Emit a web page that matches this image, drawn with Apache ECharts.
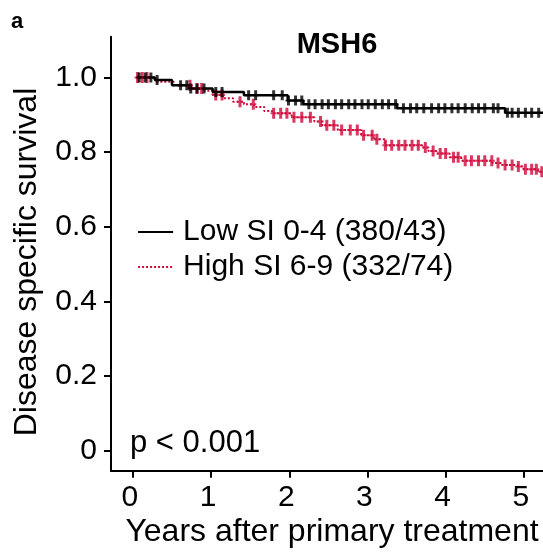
<!DOCTYPE html>
<html>
<head>
<meta charset="utf-8">
<script src="https://cdn.jsdelivr.net/npm/echarts@6/dist/echarts.min.js"></script>
<style>html,body{margin:0;padding:0;background:#fff}#c{width:543px;height:554px}</style>
</head>
<body>
<div id="c"></div>
<script>
// ---- data ----
const lowName = 'Low SI 0-4 (380/43)';
const highName = 'High SI 6-9 (332/74)';
const lowTimes = [0.05, 0.28, 0.50, 0.72, 1.02, 1.42, 1.98, 2.18, 3.38, 4.76, 5.245];
const lowSurv  = [1.000, 0.993, 0.979, 0.970, 0.961, 0.952, 0.938, 0.928, 0.917, 0.905, 0.905];
const highTimes = [0.05, 0.30, 0.52, 0.75, 0.92, 1.02, 1.15, 1.28, 1.42, 1.55, 1.68, 1.78, 2.03, 2.32, 2.42, 2.62, 2.92, 3.08, 3.22, 3.70, 3.78, 3.88, 4.05, 4.20, 4.60, 4.72, 4.88, 5.00, 5.18, 5.245];
const highSurv  = [1.000, 0.988, 0.979, 0.970, 0.964, 0.953, 0.944, 0.935, 0.928, 0.921, 0.910, 0.904, 0.893, 0.882, 0.872, 0.859, 0.845, 0.834, 0.818, 0.812, 0.803, 0.796, 0.786, 0.777, 0.771, 0.765, 0.761, 0.754, 0.747, 0.747];
const lowCensor = [0.08,0.16,0.23,0.31,0.61,0.69,0.74,0.82,0.91,1.06,1.14,1.48,1.57,1.80,1.91,1.99,2.08,2.16,2.25,2.33,2.42,2.50,2.59,2.67,2.76,2.84,2.93,3.01,3.10,3.19,3.27,3.36,3.46,3.55,3.63,3.72,3.82,3.91,3.99,4.08,4.16,4.25,4.34,4.42,4.50,4.61,4.67,4.79,4.85,4.93,5.02,5.10,5.19];
const highCensor = [0.06,0.12,0.18,0.73,0.82,0.88,1.06,1.14,1.37,1.54,1.80,1.89,1.97,2.06,2.16,2.27,2.40,2.48,2.57,2.67,2.78,2.87,2.95,3.06,3.12,3.23,3.31,3.40,3.48,3.57,3.65,3.74,3.84,3.93,4.00,4.10,4.16,4.25,4.33,4.42,4.50,4.59,4.67,4.76,4.85,4.93,5.02,5.10,5.16,5.23];
const xTicks = [0, 1, 2, 3, 4, 5];
const yTicks = [0, 0.2, 0.4, 0.6, 0.8, 1.0];
const titleText = 'MSH6';
const panelLetter = 'a';
const pText = 'p < 0.001';
const xTitle = 'Years after primary treatment';
const yTitle = 'Disease specific survival';

// ---- helpers ----
function pairs(ts, ss) { return ts.map((t, i) => [t, ss[i]]); }
function stepAt(ts, ss, t) {
  let v = ss[0];
  for (let i = 0; i < ts.length; i++) { if (ts[i] <= t) v = ss[i]; }
  return v;
}
function censorPts(c, ts, ss) { return c.map(t => [t, stepAt(ts, ss, t)]); }

const FONT = '"Liberation Sans", Arial, Helvetica, sans-serif';
const RED = '#d0083a';
const plusBlack = 'path://M1.5,0H4.5V4.5H6V6.5H4.5V11H1.5V6.5H0V4.5H1.5Z';
const plusRed = 'path://M1.5,0H4.5V4.5H6V6.5H4.5V11H1.5V6.5H0V4.5H1.5Z';

const chart = echarts.init(document.getElementById('c'), null, {renderer: 'canvas'});
chart.setOption({
  animation: false,
  backgroundColor: '#fff',
  grid: {left: 111, right: 0, top: 36.7, bottom: 83.3, containLabel: false},
  xAxis: {
    type: 'value', min: -0.28, max: 5.245,
    axisLine: {show: true, onZero: false, lineStyle: {color: '#000', width: 2}},
    axisTick: {show: true, customValues: xTicks, length: 7, lineStyle: {color: '#000', width: 2}},
    axisLabel: {show: true, customValues: xTicks, color: '#000', fontSize: 30, fontFamily: FONT, margin: 12, padding: [0, 6, 0, 0]},
    splitLine: {show: false}
  },
  yAxis: {
    type: 'value', min: -0.0536, max: 1.109,
    axisLine: {show: true, onZero: false, lineStyle: {color: '#000', width: 2}},
    axisTick: {show: true, customValues: yTicks, length: 7, lineStyle: {color: '#000', width: 2}},
    axisLabel: {show: true, customValues: yTicks, color: '#000', fontSize: 30, fontFamily: FONT, margin: 14,
      formatter: v => (Math.abs(v) < 1e-9 ? '0' : v.toFixed(1))},
    splitLine: {show: false}
  },
  legend: {
    show: true, orient: 'vertical', left: 132, top: 212,
    data: [lowName, highName],
    itemWidth: 35, itemHeight: 14, itemGap: 5,
    itemStyle: {opacity: 0},
    lineStyle: {width: 2.2},
    textStyle: {color: '#000', fontSize: 30, fontFamily: FONT, lineHeight: 30, padding: [0, 0, 0, 5]},
    selectedMode: false
  },
  series: [
    {name: lowName, type: 'line', step: 'end', data: pairs(lowTimes, lowSurv), symbol: 'none',
      lineStyle: {color: '#000', width: 2.5}, itemStyle: {color: '#000'}, z: 3},
    {name: highName, type: 'line', step: 'end', data: pairs(highTimes, highSurv), symbol: 'none',
      lineStyle: {color: RED, width: 2, type: [2, 2]}, itemStyle: {color: RED}, z: 2},
    {name: 'censor-low', type: 'scatter', data: censorPts(lowCensor, lowTimes, lowSurv),
      symbol: plusBlack, symbolSize: [6, 10], itemStyle: {color: '#000'}, z: 4, silent: true},
    {name: 'censor-high', type: 'scatter', data: censorPts(highCensor, highTimes, highSurv),
      symbol: plusRed, symbolSize: [6, 11], itemStyle: {color: RED}, z: 3, silent: true}
  ],
  graphic: [
    {type: 'text', x: 11, y: 22, style: {text: panelLetter, font: 'bold 22px ' + FONT, fill: '#000', textVerticalAlign: 'middle'}},
    {type: 'text', x: 337, y: 45, style: {text: titleText, font: 'bold 29px ' + FONT, fill: '#000', textAlign: 'center', textVerticalAlign: 'middle'}},
    {type: 'text', x: 130, y: 443, style: {text: pText, font: '31px ' + FONT, fill: '#000', textVerticalAlign: 'middle'}},
    {type: 'text', x: 332, y: 532, style: {text: xTitle, font: '32px ' + FONT, fill: '#000', textAlign: 'center', textVerticalAlign: 'middle'}},
    {type: 'text', x: 27, y: 262, rotation: Math.PI / 2, style: {text: yTitle, font: '32px ' + FONT, fill: '#000', textAlign: 'center', textVerticalAlign: 'middle'}}
  ]
});
</script>
</body>
</html>
